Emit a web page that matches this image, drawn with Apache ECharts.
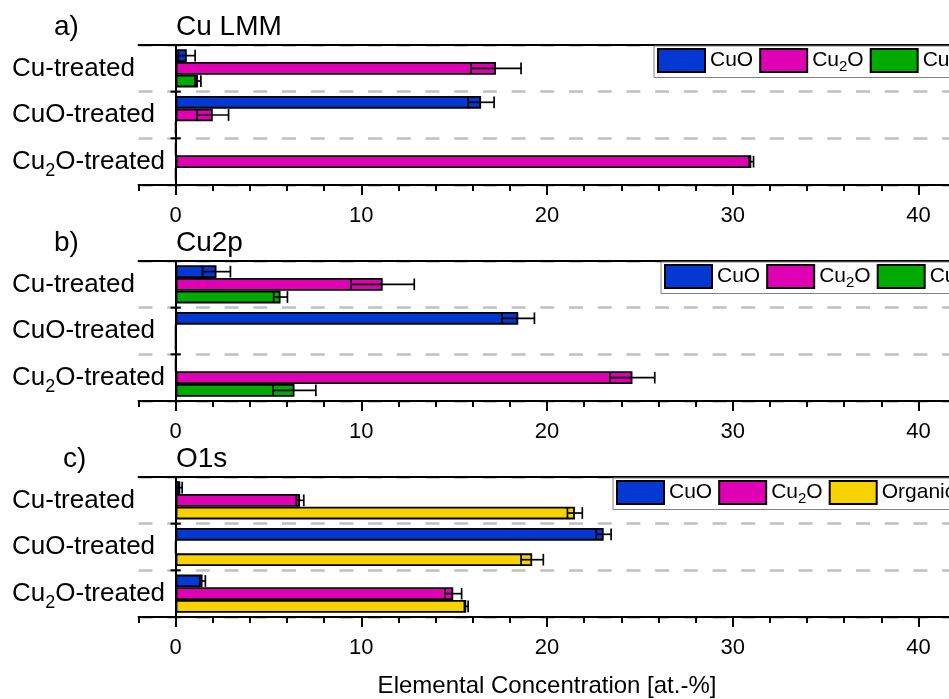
<!DOCTYPE html>
<html>
<head>
<meta charset="utf-8">
<script src="https://cdn.jsdelivr.net/npm/echarts@6/dist/echarts.min.js"></script>
<style>
  html, body { margin: 0; padding: 0; background: #fff; }
  #chart { width: 949px; height: 699px; }
</style>
</head>
<body>
<div id="chart"></div>
<script>
// Sample treatments (rows of each panel) and value-axis ticks
const categories = ['Cu-treated', 'CuO-treated', 'Cu2O-treated'];
const panelTags = ['a)', 'b)', 'c)'];
const panelTitles = ['Cu LMM', 'Cu2p', 'O1s'];
const xTicks = [0, 10, 20, 30, 40];

// a) Cu LMM
const cuLmmCuO = [0.6, 16.45, 0];
const cuLmmCuOErr = [0.45, 0.7, 0];
const cuLmmCu2O = [17.25, 2.0, 31.0];
const cuLmmCu2OErr = [1.35, 0.85, 0.12];
const cuLmmCu = [1.2, 0, 0];
const cuLmmCuErr = [0.16, 0, 0];

// b) Cu2p
const cu2pCuO = [2.2, 18.45, 0];
const cu2pCuOErr = [0.75, 0.87, 0];
const cu2pCu2O = [11.15, 0, 24.6];
const cu2pCu2OErr = [1.7, 0, 1.2];
const cu2pCu = [5.65, 0, 6.4];
const cu2pCuErr = [0.37, 0, 1.15];

// c) O1s
const o1sCuO = [0.25, 23.05, 1.45];
const o1sCuOErr = [0.1, 0.4, 0.15];
const o1sCu2O = [6.7, 0, 14.95];
const o1sCu2OErr = [0.2, 0, 0.45];
const o1sOrganic = [21.5, 19.2, 15.65];
const o1sOrganicErr = [0.4, 0.6, 0.1];

const FONT = '"Liberation Sans", Arial, sans-serif';
const COLORS = { CuO: '#0339D2', Cu2O: '#DE00B2', Cu: '#00AA00', Organic: '#F5D200' };
const BAR_W = 12.7;
const AX_MIN = -2, AX_MAX = 42;
const GRID_LEFT = 138.5;

const panels = [
  { series: [['CuO', cuLmmCuO, cuLmmCuOErr], ['Cu2O', cuLmmCu2O, cuLmmCu2OErr], ['Cu', cuLmmCu, cuLmmCuErr]],
    top: 45, legendLeft: 654, legendTop: 46, tagLeft: 54, titleTop: 13 },
  { series: [['CuO', cu2pCuO, cu2pCuOErr], ['Cu2O', cu2pCu2O, cu2pCu2OErr], ['Cu', cu2pCu, cu2pCuErr]],
    top: 261, legendLeft: 661, legendTop: 262, tagLeft: 54, titleTop: 229 },
  { series: [['CuO', o1sCuO, o1sCuOErr], ['Cu2O', o1sCu2O, o1sCu2OErr], ['Organic', o1sOrganic, o1sOrganicErr]],
    top: 477, legendLeft: 613, legendTop: 478, tagLeft: 63, titleTop: 445 }
];

// "Cu2O" is written with a subscript 2: the tall line box of the normal
// tokens lets the bottom-aligned small "2" sit below the baseline
function subText(s) {
  return s.indexOf('Cu2O') === 0 ? '{n|Cu}{s|2}{n|' + s.slice(3) + '}' : '{n|' + s + '}';
}
function richFor(size, sub, lineH) {
  return {
    n: { fontSize: size, fontFamily: FONT, color: '#000', lineHeight: lineH },
    s: { fontSize: sub, fontFamily: FONT, color: '#000', verticalAlign: 'bottom' }
  };
}

const grids = [], xAxes = [], yAxes = [], series = [], legends = [], titles = [];

panels.forEach((p, i) => {
  grids.push({ left: GRID_LEFT, top: p.top, width: (AX_MAX - AX_MIN) * 18.57, height: 140,
               outerBoundsMode: 'none', containLabel: false });

  const common = { type: 'value', gridIndex: i, min: AX_MIN, max: AX_MAX, splitLine: { show: false } };
  // main bottom axis: line, major ticks and labels
  xAxes.push(Object.assign({}, common, {
    position: 'bottom',
    axisLine: { show: true, onZero: false, lineStyle: { color: '#000', width: 2 } },
    axisTick: { show: true, customValues: xTicks, length: 10, lineStyle: { color: '#000', width: 2 } },
    axisLabel: { show: true, customValues: xTicks, fontSize: 22, color: '#000', fontFamily: FONT, margin: 20 },
    name: i === 2 ? 'Elemental Concentration [at.-%]' : '',
    nameLocation: 'middle', nameGap: 57,
    nameTextStyle: { fontSize: 24, color: '#000', fontFamily: FONT }
  }));
  // minor ticks every 2 units
  xAxes.push(Object.assign({}, common, {
    position: 'bottom', interval: 2,
    axisLine: { show: false, onZero: false },
    axisTick: { show: true, length: 6, lineStyle: { color: '#000', width: 2 } },
    axisLabel: { show: false }
  }));
  // top frame line
  xAxes.push(Object.assign({}, common, {
    position: 'top',
    axisLine: { show: true, onZero: false, lineStyle: { color: '#000', width: 2 } },
    axisTick: { show: false }, axisLabel: { show: false }
  }));

  yAxes.push({
    type: 'category', gridIndex: i, data: categories, inverse: true,
    axisLine: { show: true, onZero: true, lineStyle: { color: '#000', width: 2 } },
    axisTick: { show: false },
    axisLabel: { margin: GRID_LEFT - 12, align: 'left', formatter: v => subText(v), rich: richFor(26, 18, 36) },
    splitLine: { show: true, lineStyle: { color: '#c0c0c0', width: 2.5, type: [14, 14.7] } }
  });

  p.series.forEach(([name, vals, errs], k) => {
    series.push({
      type: 'bar', name: name, xAxisIndex: 3 * i, yAxisIndex: i,
      data: vals, barWidth: BAR_W, barGap: '0%',
      itemStyle: { color: COLORS[name], borderColor: '#000', borderWidth: 1.8 },
      z: 2
    });
    series.push({
      type: 'custom', name: name + ' error', xAxisIndex: 3 * i, yAxisIndex: i,
      data: vals.map((v, c) => [v, c, errs[c], k]),
      encode: { x: 0, y: 1 }, z: 4, silent: true,
      renderItem: (params, api) => {
        const v = api.value(0), c = api.value(1), e = api.value(2), slot = api.value(3);
        if (!(e > 0)) return;
        const y = api.coord([v, c])[1] + (slot - 1) * BAR_W;
        const x1 = api.coord([v - e, c])[0], x2 = api.coord([v + e, c])[0];
        const h = BAR_W / 2 - 0.5;
        const st = { stroke: '#000', lineWidth: 1.7 };
        return { type: 'group', children: [
          { type: 'line', shape: { x1: x1, y1: y, x2: x2, y2: y }, style: st },
          { type: 'line', shape: { x1: x1, y1: y - h, x2: x1, y2: y + h }, style: st },
          { type: 'line', shape: { x1: x2, y1: y - h, x2: x2, y2: y + h }, style: st }
        ] };
      }
    });
  });

  // short ticks crossing the zero line between rows
  series.push({
    type: 'custom', xAxisIndex: 3 * i, yAxisIndex: i, silent: true, z: 5,
    data: [[0, 0], [0, 1]], encode: { x: 0, y: 1 },
    renderItem: (params, api) => {
      const c = api.value(1);
      const a = api.coord([0, c]), b = api.coord([0, c + 1]);
      const y = (a[1] + b[1]) / 2;
      return { type: 'line', shape: { x1: a[0] - 5, y1: y, x2: a[0] + 5, y2: y },
               style: { stroke: '#000', lineWidth: 2 } };
    }
  });

  legends.push({
    data: p.series.map(s => s[0]),
    left: p.legendLeft, top: p.legendTop, width: 600, orient: 'horizontal',
    icon: 'rect', itemWidth: 47, itemHeight: 23, itemGap: 6,
    backgroundColor: '#fff', borderColor: '#808080', borderWidth: 1,
    padding: [2, 4, 3, 3], selectedMode: false,
    itemStyle: { borderColor: '#000', borderWidth: 2 },
    formatter: n => subText(n),
    textStyle: { rich: richFor(21, 15, 28) }
  });

  titles.push({ text: panelTags[i], left: p.tagLeft, top: p.titleTop, padding: 0,
                textStyle: { fontSize: 28, fontWeight: 'normal', color: '#000', fontFamily: FONT } });
  titles.push({ text: panelTitles[i], left: 176, top: p.titleTop, padding: 0,
                textStyle: { fontSize: 28, fontWeight: 'normal', color: '#000', fontFamily: FONT } });
});

const chart = echarts.init(document.getElementById('chart'), null, { renderer: 'canvas' });
chart.setOption({
  animation: false,
  backgroundColor: '#fff',
  textStyle: { fontFamily: FONT },
  title: titles,
  legend: legends,
  grid: grids,
  xAxis: xAxes,
  yAxis: yAxes,
  series: series
});
</script>
</body>
</html>
